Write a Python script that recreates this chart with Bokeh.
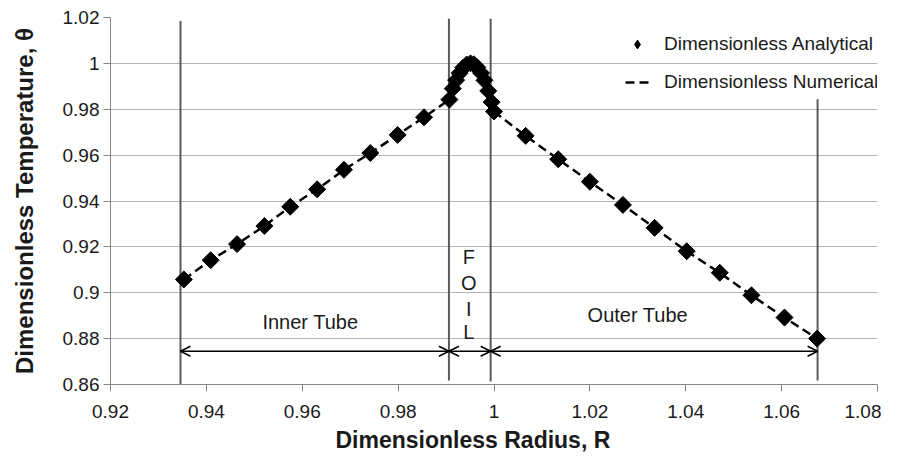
from bokeh.plotting import figure
from bokeh.models import (FixedTicker, Legend, LegendItem, Arrow, OpenHead, Title,
                          ColumnDataSource)
from bokeh.core.properties import value
from bokeh.embed import file_html
from bokeh.resources import INLINE

# ---------------- data ----------------
r_analytical = [0.9353, 0.9409, 0.9464, 0.9521, 0.9575, 0.9631, 0.9687, 0.9742, 0.9799, 0.9854, 0.9907,
                0.9914, 0.9921, 0.9928, 0.9936, 0.9943, 0.9951, 0.9958, 0.9965, 0.9973, 0.9980, 0.9988, 0.9995,
                1.0000, 1.0066, 1.0134, 1.0200, 1.0269, 1.0335, 1.0402, 1.0471, 1.0537, 1.0606, 1.0674]
theta_analytical = [0.9058, 0.9142, 0.9212, 0.9291, 0.9375, 0.9451, 0.9536, 0.9609, 0.9688, 0.9765, 0.9842,
                    0.9890, 0.9927, 0.9957, 0.9982, 0.9995, 1.0000, 0.9996, 0.9983, 0.9958, 0.9926, 0.9880, 0.9831,
                    0.9790, 0.9684, 0.9582, 0.9484, 0.9383, 0.9283, 0.9181, 0.9087, 0.8989, 0.8892, 0.8800]

r_numerical = [0.9353, 0.9409, 0.9464, 0.9521, 0.9575, 0.9631, 0.9687, 0.9742, 0.9799, 0.9854, 0.9907,
               0.9914, 0.9921, 0.9928, 0.9936, 0.9943, 0.9951, 0.9958, 0.9965, 0.9973, 0.9980, 0.9988, 0.9995,
               1.0000, 1.0066, 1.0134, 1.0200, 1.0269, 1.0335, 1.0402, 1.0471, 1.0537, 1.0606, 1.0674]
theta_numerical = [0.9058, 0.9142, 0.9212, 0.9291, 0.9375, 0.9451, 0.9536, 0.9609, 0.9688, 0.9765, 0.9842,
                   0.9890, 0.9927, 0.9957, 0.9982, 0.9995, 1.0000, 0.9996, 0.9983, 0.9958, 0.9926, 0.9880, 0.9831,
                   0.9790, 0.9684, 0.9582, 0.9484, 0.9383, 0.9283, 0.9181, 0.9087, 0.8989, 0.8892, 0.8800]

# region boundaries (radius) and their vertical extents
boundary_r = [0.9346, 0.9906, 0.9993, 1.0675]
boundary_top = [1.0185, 1.0195, 1.0195, 0.9844]
boundary_bottom = [0.8600, 0.8617, 0.8613, 0.8617]

# dimension arrows between boundaries
arrow_start = [0.9346, 0.9906, 0.9993]
arrow_end = [0.9906, 0.9993, 1.0675]
arrow_theta = [0.8745, 0.8745, 0.8745]

# region labels
region_labels = ["Inner Tube", "Outer Tube", "F", "O", "I", "L"]
region_label_r = [0.9617, 1.0300, 0.99475, 0.99475, 0.99475, 0.99475]
region_label_theta = [0.8871, 0.8902, 0.9156, 0.9043, 0.8931, 0.8829]

x_ticks = [0.92, 0.94, 0.96, 0.98, 1.0, 1.02, 1.04, 1.06, 1.08]
x_tick_labels = ["0.92", "0.94", "0.96", "0.98", "1", "1.02", "1.04", "1.06", "1.08"]
y_ticks = [0.86, 0.88, 0.9, 0.92, 0.94, 0.96, 0.98, 1.0, 1.02]
y_tick_labels = ["0.86", "0.88", "0.9", "0.92", "0.94", "0.96", "0.98", "1", "1.02"]

# ---------------- style ----------------
FONT = "Liberation Sans"
TXT = "#1a1a1a"
AXIS_GRAY = "#868686"

p = figure(frame_width=767, frame_height=367, x_range=(0.92, 1.08), y_range=(0.86, 1.02),
           output_backend="svg", toolbar_location=None,
           min_border_left=110, min_border_right=4, min_border_top=17, min_border_bottom=20)
p.outline_line_color = None
p.background_fill_color = "white"
p.border_fill_color = "white"

p.xgrid.grid_line_color = None
p.ygrid.grid_line_color = "#b4b4b4"
p.ygrid.grid_line_width = 1

p.xaxis.ticker = FixedTicker(ticks=x_ticks)
p.yaxis.ticker = FixedTicker(ticks=y_ticks)
p.xaxis.major_label_overrides = dict(zip(x_ticks, x_tick_labels))
p.yaxis.major_label_overrides = dict(zip(y_ticks, y_tick_labels))

for ax in (p.xaxis, p.yaxis):
    ax.axis_line_color = AXIS_GRAY
    ax.major_tick_line_color = AXIS_GRAY
    ax.major_tick_out = 7
    ax.major_tick_in = 0
    ax.minor_tick_line_color = None
    ax.major_label_text_font = FONT
    ax.major_label_text_font_size = "19px"
    ax.major_label_text_color = TXT
p.yaxis.major_label_standoff = 4
p.xaxis.major_label_standoff = 13

p.yaxis.axis_label = "Dimensionless Temperature, θ"
p.yaxis.axis_label_text_font = FONT
p.yaxis.axis_label_text_font_size = "24px"
p.yaxis.axis_label_text_font_style = "bold"
p.yaxis.axis_label_text_color = TXT
p.yaxis.axis_label_standoff = 22

p.add_layout(Title(text="Dimensionless Radius, R", align="left", offset=225,
                   text_font=FONT, text_font_size="23px", text_font_style="bold",
                   text_color=TXT, standoff=8), "below")

# boundaries
p.segment(x0=boundary_r, y0=boundary_bottom, x1=boundary_r, y1=boundary_top,
          line_color="#5a5a5a", line_width=2)

# dimension arrows
arr_src = ColumnDataSource(dict(xs=arrow_start, xe=arrow_end, y=arrow_theta))
p.add_layout(Arrow(x_start="xs", y_start="y", x_end="xe", y_end="y", source=arr_src,
                   line_color="black", line_width=1.5,
                   start=OpenHead(size=10, line_color="black", line_width=1.5),
                   end=OpenHead(size=10, line_color="black", line_width=1.5)))

p.text(x=region_label_r, y=region_label_theta, text=region_labels,
       text_font=value(FONT), text_font_size="20px", text_color=TXT,
       text_align="center", text_baseline="middle")

# series
sc_key = p.scatter(r_analytical, theta_analytical, marker="diamond", size=12,
                   fill_color="black", line_color="black")
sc = p.scatter(r_analytical, theta_analytical, marker="square", angle=0.785398,
               size=12, fill_color="black", line_color="black")
ln = p.line(r_numerical, theta_numerical, line_color="black", line_width=2.5,
            line_dash="9 5")

legend = Legend(items=[LegendItem(label="Dimensionless Analytical", renderers=[sc_key]),
                       LegendItem(label="Dimensionless Numerical", renderers=[ln])],
                location=(515, 291), background_fill_alpha=0, border_line_alpha=0,
                padding=0, margin=0, spacing=16, glyph_width=24, glyph_height=22,
                label_height=22, label_standoff=15,
                label_text_font=FONT, label_text_font_size="19px", label_text_color=TXT)
p.add_layout(legend, "center")

open("out.html", "w").write(file_html(p, INLINE))
